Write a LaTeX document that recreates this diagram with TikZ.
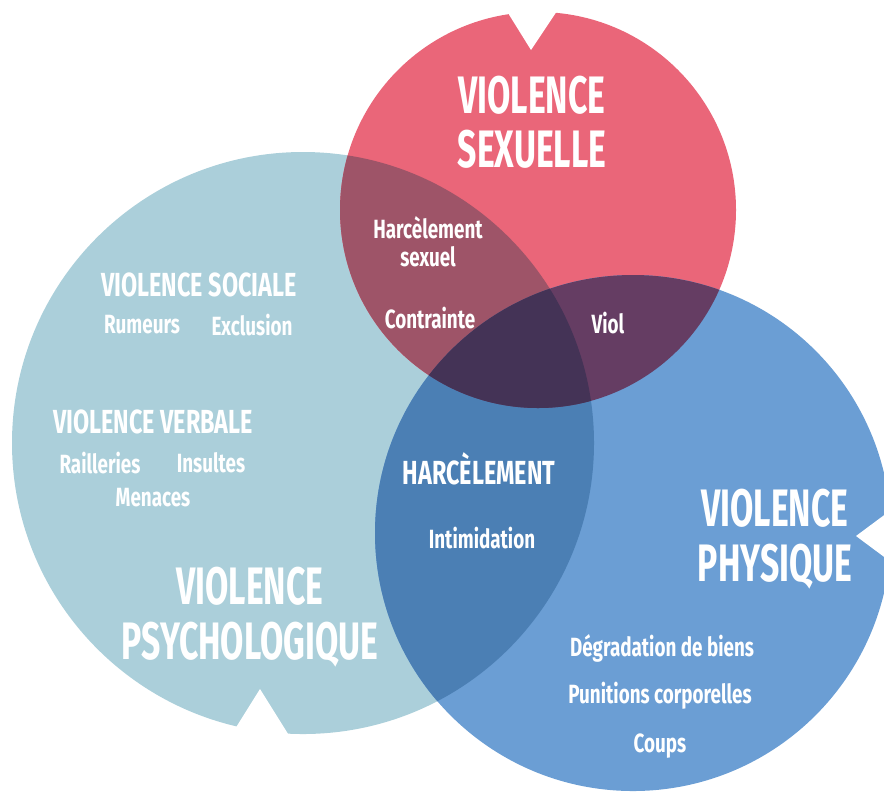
\documentclass[tikz,border=0pt]{standalone}
\usepackage{fontspec}
\setmainfont{Fira Sans}
\newfontfamily\bigfont[FakeStretch=0.64]{Fira Sans}
\newfontfamily\midfont[FakeStretch=0.70]{Fira Sans}
\newfontfamily\smallfont[FakeStretch=0.715]{Fira Sans}
\usetikzlibrary{positioning}

\begin{document}
\begin{tikzpicture}[x=0.02cm,y=-0.02cm,node distance=2pt,
	big label/.style={text=white,font=\bigfont\bfseries\fontsize{30}{31}\selectfont,align=center},
	mid label/.style={text=white,font=\midfont\bfseries\fontsize{19}{20}\selectfont},
	small label/.style={text=white,font=\smallfont\bfseries\fontsize{15}{16}\selectfont,align=center,inner sep=0pt}]
	
	\definecolor{psy}{RGB}{171,207,218}
	\definecolor{sex}{RGB}{234,102,121}
	\definecolor{phy}{RGB}{107,158,212}
	\definecolor{psysex}{RGB}{158,84,104}
	\definecolor{sexphy}{RGB}{101,61,99}
	\definecolor{psyphy}{RGB}{75,127,180}
	\definecolor{allthree}{RGB}{68,51,86}
	
	\useasboundingbox (0,0) rectangle (884,792);
	
	\fill[psy] (303,443) circle (291);
	\fill[sex] (538,210) circle (198);
	\fill[phy] (633,533) circle (258);
	\begin{scope}
		\clip (303,443) circle (291);
		\fill[psysex] (538,210) circle (198);
		\fill[psyphy] (633,533) circle (258);
	\end{scope}
	\begin{scope}
		\clip (538,210) circle (198);
		\fill[sexphy] (633,533) circle (258);
		\clip (303,443) circle (291);
		\fill[allthree] (633,533) circle (258);
	\end{scope}
	
	\fill[white] (503,5) -- (531,50) -- (561,5) -- cycle;
	\fill[white] (225,745) -- (260,689) -- (295,745) -- cycle;
	\fill[white] (895,507) -- (856,536) -- (895,565) -- cycle;
	
	\node[big label] (sexuelle) at (532,122) {VIOLENCE\\SEXUELLE};
	\node[big label] (physique) at (775,539) {VIOLENCE\\PHYSIQUE};
	\node[big label] (psycho) at (250,617) {VIOLENCE\\PSYCHOLOGIQUE};
	
	\node[small label] (harsex) at (428,228) {Harcèlement};
	\node[small label] (sexuel) [below=4pt of harsex] {sexuel};
	\node[small label] (contrainte) at (430,318) {Contrainte};
	\node[small label] (viol) at (608,323) {Viol};
	
	\node[mid label] (sociale) at (199,285) {VIOLENCE SOCIALE};
	\node[small label] (rumeurs) at (142,325) {Rumeurs};
	\node[small label] (exclusion) at (252,325) {Exclusion};
	\node[mid label] (verbale) at (153,422) {VIOLENCE VERBALE};
	\node[small label] (railleries) at (100,463) {Railleries};
	\node[small label] (insultes) at (211,463) {Insultes};
	\node[small label] (menaces) at (153,498) {Menaces};
	
	\node[mid label] (harcelement) at (479,469) {HARCÈLEMENT};
	\node[small label] (intimidation) at (482,538) {Intimidation};
	
	\node[small label] (degradation) at (662,648) {Dégradation de biens};
	\node[small label] (punitions) at (660,696) {Punitions corporelles};
	\node[small label] (coups) at (660,746) {Coups};
\end{tikzpicture}
\end{document}
